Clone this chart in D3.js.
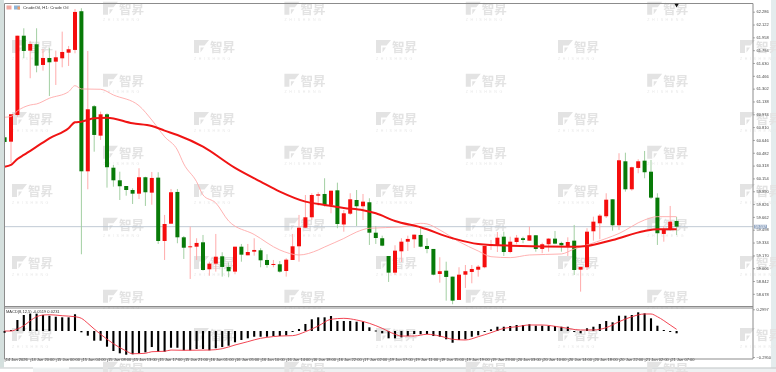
<!DOCTYPE html>
<html>
<head>
<meta charset="utf-8">
<script src="https://cdn.jsdelivr.net/npm/d3@7/dist/d3.min.js"></script>
<style>
html,body{margin:0;padding:0;background:#fff;overflow:hidden}
svg{display:block;font-family:"Liberation Sans",sans-serif;filter:blur(0.3px)}
</style>
</head>
<body>
<svg id="chart" width="776" height="372"></svg>
<script>
const symbolTitle = "CrudeOil, H1:  Crude Oil";
const macdTitle = "MACD(8,12,5) -0.0519 0.0231";
const lastPrice = 59.537;
const opens = [60.680,60.624,60.965,61.979,61.788,61.870,61.605,61.694,61.647,61.690,
61.762,61.797,62.292,60.245,61.077,60.701,60.974,60.291,60.130,60.057,
60.006,59.959,60.169,59.972,60.164,59.354,59.575,59.981,59.401,59.274,
59.281,59.337,58.992,59.064,59.158,59.022,58.962,59.281,59.171,59.217,
59.235,59.111,59.047,59.056,58.970,59.111,59.286,59.524,59.657,59.933,
59.955,59.815,60.002,59.565,59.703,59.878,59.798,59.849,59.460,59.389,
59.162,58.949,59.222,59.345,59.376,59.431,59.290,59.252,58.932,58.974,
58.898,58.600,58.923,58.958,58.987,59.018,59.290,59.294,59.409,59.213,
59.341,59.389,59.358,59.427,59.252,59.312,59.384,59.329,59.290,59.358,
58.987,59.018,59.478,59.580,59.670,59.887,59.555,60.373,60.015,60.288,
60.381,60.240,59.908,59.444,59.495,59.610];
const closes = [60.620,60.974,61.979,61.784,61.873,61.596,61.694,61.639,61.703,61.771,
61.806,62.283,60.245,61.038,60.710,60.974,60.297,60.130,60.054,60.006,
59.959,60.169,59.977,60.160,59.354,59.571,59.977,59.401,59.268,59.286,
59.329,58.983,59.064,59.153,59.022,58.967,59.281,59.179,59.213,59.239,
59.107,59.047,59.060,58.962,59.115,59.286,59.524,59.657,59.942,59.951,
59.815,59.997,59.571,59.708,59.887,59.798,59.857,59.460,59.392,59.294,
58.949,59.230,59.345,59.380,59.435,59.281,59.252,58.923,58.967,58.894,
58.591,58.923,58.967,58.996,59.025,59.290,59.309,59.396,59.213,59.345,
59.396,59.367,59.427,59.252,59.312,59.384,59.320,59.299,59.341,58.983,
59.022,59.473,59.601,59.678,59.882,59.555,60.386,60.015,60.297,60.373,
60.233,59.908,59.453,59.504,59.601,59.537];
const highs = [60.710,60.974,61.979,62.074,61.903,62.074,61.809,61.818,61.788,62.031,
61.848,62.321,62.330,61.784,61.093,61.008,60.987,60.326,60.240,60.057,
60.028,60.284,60.176,60.237,60.233,59.687,60.019,60.019,59.418,59.537,
59.389,59.431,59.089,59.444,59.210,59.077,59.281,59.316,59.316,59.389,
59.261,59.184,59.111,59.098,59.133,59.444,59.687,59.942,59.964,59.977,
60.156,59.997,60.100,59.751,59.964,60.006,59.955,59.900,59.546,59.422,
59.162,59.299,59.389,59.422,59.435,59.517,59.389,59.252,59.146,59.089,
58.898,59.018,59.047,59.047,59.047,59.290,59.367,59.469,59.473,59.409,
59.431,59.409,59.537,59.427,59.332,59.389,59.482,59.345,59.401,59.559,
59.022,59.517,59.665,59.699,59.964,59.887,60.476,60.483,60.304,60.399,
60.505,60.390,59.964,59.546,59.802,59.661];
const lows = [60.595,60.352,60.944,61.690,61.435,61.511,61.532,61.208,61.349,61.575,
61.592,61.754,59.184,60.015,60.496,60.646,60.036,60.048,59.878,59.933,
59.827,59.891,59.802,59.818,59.316,59.111,59.575,59.325,59.124,58.868,
59.111,58.974,58.910,58.962,58.898,58.890,58.928,59.089,59.171,59.166,
59.018,59.013,59.018,58.949,58.898,59.111,59.089,59.520,59.623,59.805,
59.793,59.708,59.517,59.473,59.687,59.546,59.623,59.303,59.316,59.286,
58.830,58.919,59.086,59.226,59.265,59.274,59.197,58.915,58.821,58.591,
58.545,58.600,58.753,58.813,58.898,59.005,59.239,59.213,59.162,59.197,
59.312,59.325,59.358,59.217,59.197,59.217,59.312,59.217,59.162,58.919,
58.706,58.983,59.358,59.376,59.648,59.486,59.495,59.985,59.997,60.220,
60.156,59.891,59.303,59.345,59.482,59.431];
const slowMaIndex = [0,1,2,3,5,7,10,11,12,14,16,20,23,25,27,31,36,40,43,47,50,53,56,58,61,65,70,74,79,89,91,95,100,102,105];
const slowMaValues = [60.304,60.326,60.403,60.454,60.560,60.667,60.795,60.872,60.880,60.923,60.931,60.859,60.825,60.765,60.710,60.560,60.288,60.112,59.985,59.857,59.815,59.776,59.747,59.708,59.610,59.529,59.389,59.316,59.294,59.281,59.290,59.367,59.482,59.504,59.504];
const fastMaIndex = [0,1,2,4,5,7,10,11,12,15,17,21,23,25,27,28,30,31,33,35,39,43,46,49,50,53,55,57,62,65,66,68,71,74,76,79,82,87,89,91,94,96,100,102,105];
const fastMaValues = [60.936,60.946,61.017,61.093,61.106,61.179,61.263,61.340,61.298,61.294,61.221,61.084,60.901,60.688,60.518,60.339,60.112,59.942,59.840,59.610,59.437,59.239,59.175,59.239,59.277,59.386,59.469,59.517,59.533,59.580,59.572,59.495,59.345,59.226,59.153,59.141,59.175,59.188,59.252,59.303,59.386,59.450,59.623,59.665,59.665];
const macdHist = [-0.020,0.014,0.152,0.221,0.239,0.239,0.221,0.211,0.197,0.189,
0.189,0.231,-0.015,-0.053,-0.110,-0.110,-0.178,-0.227,-0.253,-0.269,
-0.264,-0.253,-0.242,-0.182,-0.235,-0.235,-0.190,-0.190,-0.219,-0.219,
-0.204,-0.204,-0.219,-0.196,-0.182,-0.167,-0.128,-0.102,-0.083,-0.065,
-0.065,-0.065,-0.057,-0.057,-0.049,-0.011,0.028,0.097,0.162,0.189,
0.189,0.207,0.138,0.138,0.138,0.128,0.128,0.051,0.007,-0.026,
-0.083,-0.083,-0.072,-0.057,-0.034,-0.037,-0.034,-0.057,-0.065,-0.094,
-0.133,-0.102,-0.094,-0.065,-0.049,-0.008,0.023,0.059,0.059,0.069,
0.083,0.083,0.093,0.073,0.073,0.069,0.069,0.059,0.059,-0.008,
-0.026,0.037,0.059,0.097,0.138,0.120,0.211,0.211,0.221,0.258,
0.244,0.175,0.073,0.014,-0.008,-0.026];
const signalIndex = [0,1,2,3,4,5,6,7,9,11,12,13,14,15,17,19,20,22,23,25,26,28,32,34,36,38,40,41,43,45,47,49,51,53,55,57,59,61,62,64,66,68,70,72,74,76,78,80,82,84,87,90,92,94,96,98,100,101,102,104,105];
const signalValues = [0,0,0.028,0.073,0.142,0.197,0.221,0.225,0.211,0.197,0.175,0.106,0.028,-0.037,-0.144,-0.227,-0.258,-0.253,-0.235,-0.230,-0.216,-0.219,-0.216,-0.201,-0.159,-0.121,-0.083,-0.072,-0.057,-0.053,-0.008,0.069,0.162,0.175,0.152,0.106,0.037,-0.037,-0.057,-0.057,-0.037,-0.057,-0.094,-0.102,-0.065,-0.019,0.037,0.059,0.083,0.083,0.051,0.014,0.014,0.046,0.128,0.197,0.235,0.235,0.197,0.083,0.023];
const priceTicks = [62.286,62.122,61.958,61.794,61.630,61.466,61.302,61.138,60.974,60.810,60.646,60.482,60.318,60.154,59.990,59.826,59.662,59.498,59.334,59.170,59.006,58.842,58.678];
const macdTicks = [0.2997,-0.2950];
const timeTicks = [0,4,8,12,16,20,24,28,32,36,40,44,48,52,56,60,64,68,72,76,80,84,88,92,96,100,104];
const timeLabels = ["14 Jan 2026","14 Jan 20:00","15 Jan 00:00","15 Jan 04:00","15 Jan 08:00","15 Jan 13:00","15 Jan 17:00","15 Jan 21:00","16 Jan 01:00","16 Jan 05:00","16 Jan 10:00","16 Jan 14:00","16 Jan 18:00","16 Jan 22:00","17 Jan 02:00","19 Jan 07:00","19 Jan 11:00","19 Jan 15:00","19 Jan 19:00","19 Jan 23:00","20 Jan 03:00","20 Jan 10:00","20 Jan 14:00","20 Jan 18:00","20 Jan 22:00","21 Jan 02:00","21 Jan 07:00"];
const brandMark = "智昇";
const brandLatin = "ZHISHENG";

const svg = d3.select("#chart");
const frameLeft = 4.5, frameRight = 753, frameTop = 3.5, mainBottom = 306, subTop = 308, subBottom = 359;
const x = d3.scaleLinear().domain([0,105]).range([4.6,676.6]);
const y = d3.scaleLinear().domain([62.4356,58.5225]).range([0,306]);
const ym = d3.scaleLinear().domain([-0.295,0,0.2997]).range([357,331,309.3]);

// window chrome
svg.append("rect").attr("x",0).attr("y",0).attr("width",4).attr("height",372).attr("fill","#d5e0de");
svg.append("rect").attr("x",771).attr("y",0).attr("width",5).attr("height",372).attr("fill","#e4eced");
svg.append("rect").attr("x",0).attr("y",367.5).attr("width",776).attr("height",4.5).attr("fill","#eef1f2");
svg.append("rect").attr("x",0).attr("y",367.5).attr("width",33).attr("height",4.5).attr("fill","#fff");
svg.append("path").attr("d","M0 368H33M69 368H776").attr("stroke","#b8bcbe").attr("stroke-width",0.8);

// watermarks
const marks = [];
for (let r=0;r<6;r++) for (let c=0;c<4;c++) marks.push([103+181.4*c, 1.7+72*r]);
for (let r=0;r<5;r++) for (let c=0;c<5;c++) marks.push([12+182*c, 40+72*r]);
const wm = svg.append("g").selectAll("g").data(marks).join("g").attr("transform",d=>`translate(${d[0]},${d[1]})`);
wm.append("path").attr("d","M0 0H15L10.5 5.5H5V13H0ZM6.5 7.5H10L6.5 12.5Z").attr("fill","#e3e3e3");
wm.append("text").attr("x",16).attr("y",12).attr("font-family","'Noto Sans CJK SC'").attr("font-weight",700).attr("font-size",12.5).attr("fill","#e3e3e3").text(brandMark);
wm.filter(d=>d[1]+19.5<372).append("text").attr("x",0).attr("y",19.5).attr("font-size",3.6).attr("letter-spacing",2.55).attr("fill","#e8e8e8").text(brandLatin);

// last price line
svg.append("line").attr("x1",frameLeft).attr("x2",frameRight).attr("y1",y(lastPrice)).attr("y2",y(lastPrice)).attr("stroke","#b9c4d0").attr("stroke-width",0.9);

// clip
svg.append("clipPath").attr("id","mainClip").append("rect").attr("x",frameLeft).attr("y",frameTop).attr("width",frameRight-frameLeft).attr("height",mainBottom-frameTop);
const main = svg.append("g").attr("clip-path","url(#mainClip)");

const candles = d3.range(opens.length);
const isUp = i => closes[i] >= opens[i];
main.append("g").selectAll("line").data(candles).join("line")
  .attr("x1",i=>x(i)).attr("x2",i=>x(i)).attr("y1",i=>y(highs[i])).attr("y2",i=>y(lows[i]))
  .attr("stroke",i=>isUp(i)?"#ffabab":"#a3cfa3").attr("stroke-width",1);
main.append("g").selectAll("rect").data(candles).join("rect")
  .attr("x",i=>x(i)-2).attr("width",4)
  .attr("y",i=>y(Math.max(opens[i],closes[i])))
  .attr("height",i=>Math.max(1,Math.abs(y(opens[i])-y(closes[i]))))
  .attr("fill",i=>isUp(i)?"#f50d0d":"#087a08");

const lineGen = d3.line().x(d=>x(d[0])).y(d=>y(d[1])).curve(d3.curveMonotoneX);
main.append("path").datum(fastMaIndex.map((k,j)=>[k,fastMaValues[j]])).attr("d",lineGen).attr("fill","none").attr("stroke","#ffa9a9").attr("stroke-width",0.9);
main.append("path").datum(slowMaIndex.map((k,j)=>[k,slowMaValues[j]])).attr("d",lineGen).attr("fill","none").attr("stroke","#f01414").attr("stroke-width",2);

// frame
const frame = svg.append("g").attr("fill","none").attr("stroke","#8c8c8c");
frame.append("path").attr("d",`M${frameLeft} ${subBottom}V${frameTop}H${frameRight}V${subBottom}H${frameLeft}`).attr("stroke-width",1);
frame.append("path").attr("d",`M${frameLeft} ${mainBottom+0.5}H${frameRight}M${frameLeft} ${subTop}H${frameRight}`).attr("stroke-width",1);

// shift marker
svg.append("path").attr("d",d3.symbol().type(d3.symbolTriangle).size(8)()).attr("transform",`translate(${x(105)},5) rotate(180)`).attr("fill","#111");

// title bar
svg.append("rect").attr("x",6.5).attr("y",5.5).attr("width",5).attr("height",4).attr("fill","#f2a8a0");
svg.append("rect").attr("x",14).attr("y",5.5).attr("width",6).attr("height",4).attr("fill","#8db4d8");
svg.append("rect").attr("x",17.5).attr("y",6.5).attr("width",2.5).attr("height",3).attr("fill","#e8a070");
svg.append("text").attr("x",23).attr("y",9.2).attr("font-size",4.3).attr("fill","#333").text(symbolTitle);

// price axis
const axisStyle = g => {
  g.select(".domain").remove();
  g.selectAll(".tick line").attr("stroke","#777").attr("stroke-width",0.6);
  g.selectAll(".tick text").attr("font-size",4).attr("font-family","'Liberation Sans'").attr("fill","#444");
};
svg.append("g").attr("transform",`translate(${frameRight},0)`)
  .call(d3.axisRight(y).tickValues(priceTicks).tickFormat(d3.format(".3f")).tickSize(2).tickPadding(1.5))
  .call(axisStyle);

// last price tag
svg.append("rect").attr("x",754).attr("y",y(lastPrice)-1.9).attr("width",13).attr("height",3.8).attr("fill","#98abc6");
svg.append("text").attr("x",755).attr("y",y(lastPrice)+1.2).attr("font-size",3.6).attr("fill","#fff").text(d3.format(".3f")(lastPrice));

// MACD
svg.append("g").selectAll("rect").data(macdHist).join("rect")
  .attr("x",(d,i)=>x(i)-1.05).attr("width",2.1)
  .attr("y",d=>Math.min(ym(d),ym(0)))
  .attr("height",d=>Math.max(1,Math.abs(ym(d)-ym(0))))
  .attr("fill","#000");
svg.append("path").datum(signalIndex.map((k,j)=>[k,signalValues[j]]))
  .attr("d",d3.line().x(d=>x(d[0])).y(d=>ym(d[1])).curve(d3.curveMonotoneX))
  .attr("fill","none").attr("stroke","#f03040").attr("stroke-width",0.9);
svg.append("text").attr("x",6).attr("y",312.5).attr("font-size",4).attr("fill","#333").text(macdTitle);
svg.append("g").attr("transform",`translate(${frameRight},0)`)
  .call(d3.axisRight(ym).tickValues(macdTicks).tickFormat(d3.format(".4f")).tickSize(2).tickPadding(1.5))
  .call(axisStyle);

// time axis
const xAxisG = svg.append("g").attr("transform",`translate(0,${subBottom})`)
  .call(d3.axisBottom(x).tickValues(timeTicks).tickFormat((d,i)=>timeLabels[i]).tickSize(3).tickPadding(0.5))
  .call(axisStyle);
xAxisG.selectAll(".tick text").attr("text-anchor","start").attr("dx",0.6).attr("dy",-1.6);
</script>
</body>
</html>
